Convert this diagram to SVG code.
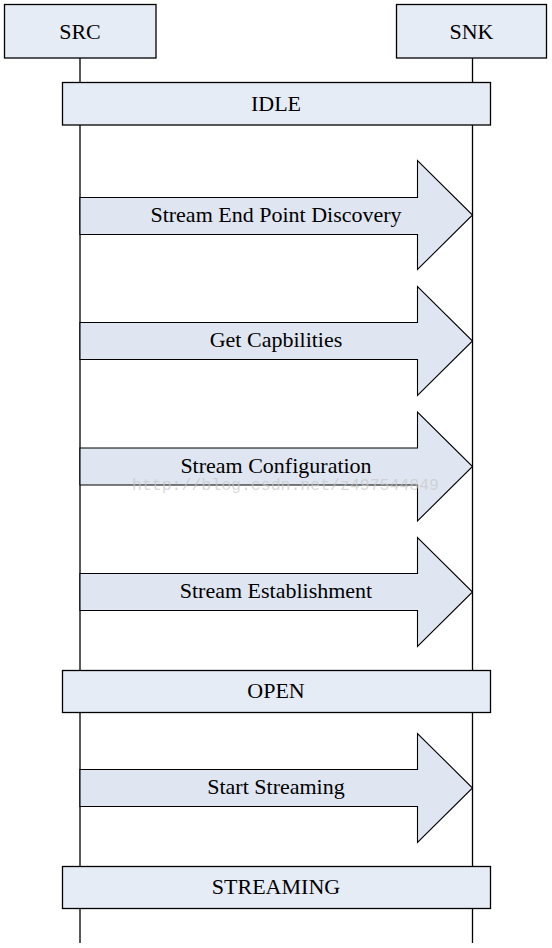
<svg xmlns="http://www.w3.org/2000/svg" width="552" height="948" viewBox="0 0 552 948">
<style>
.box{fill:#e6ecf6;stroke:#000;stroke-width:1.3}
.arr{fill:#dfe6f1;stroke:#000;stroke-width:1.1}
.life{stroke:#000;stroke-width:1.3;fill:none}
.t{font-family:"Liberation Serif","Times New Roman",serif;font-size:22px;fill:#000;text-anchor:middle}
.wm{font-family:"Liberation Mono","Courier New",monospace;font-size:16.5px;fill:#c8c8c8;fill-opacity:0.7;text-anchor:middle}
</style>
<rect width="552" height="948" fill="#fff"/>
<g id="lifelines" class="life">
<line x1="80" y1="58" x2="80" y2="943"/>
<line x1="472.5" y1="58" x2="472.5" y2="943"/>
</g>
<g id="SRC"><rect class="box" x="4.5" y="4.5" width="151.5" height="53.5"/><text class="t" x="80" y="39">SRC</text></g>
<g id="SNK"><rect class="box" x="396.5" y="4.5" width="150" height="53.5"/><text class="t" x="471.5" y="39">SNK</text></g>
<g id="IDLE"><rect class="box" x="62.5" y="82.5" width="428" height="42.5"/><text class="t" x="276" y="111">IDLE</text></g>
<g id="connectors">
<g id="a1"><path class="arr" d="M80 197.5H417.5V160.5L472.5 215L417.5 269.5V234.5H80Z"/><text class="t" x="276" y="222">Stream End Point Discovery</text></g>
<g id="a2"><path class="arr" d="M80 322.5H417.5V286.5L472.5 341L417.5 395.5V359.5H80Z"/><text class="t" x="276" y="347">Get Capbilities</text></g>
<g id="a3"><path class="arr" d="M80 448H417.5V412L472.5 466.5L417.5 521V485H80Z"/><text class="t" x="276" y="473">Stream Configuration</text></g>
<g id="a4"><path class="arr" d="M80 573.5H417.5V537.5L472.5 592L417.5 646.5V610.5H80Z"/><text class="t" x="276" y="598">Stream Establishment</text></g>
<g id="a5"><path class="arr" d="M80 769.5H417.5V733.5L472.5 788L417.5 842.5V806.5H80Z"/><text class="t" x="276" y="794">Start Streaming</text></g>
</g>
<g id="OPEN"><rect class="box" x="62.5" y="670.5" width="428" height="42"/><text class="t" x="276" y="698">OPEN</text></g>
<g id="STREAMING"><rect class="box" x="62.5" y="866.5" width="428" height="42"/><text class="t" x="276" y="894">STREAMING</text></g>
<text class="wm" x="285.5" y="490">http://blog.csdn.net/z497544849</text>
</svg>
